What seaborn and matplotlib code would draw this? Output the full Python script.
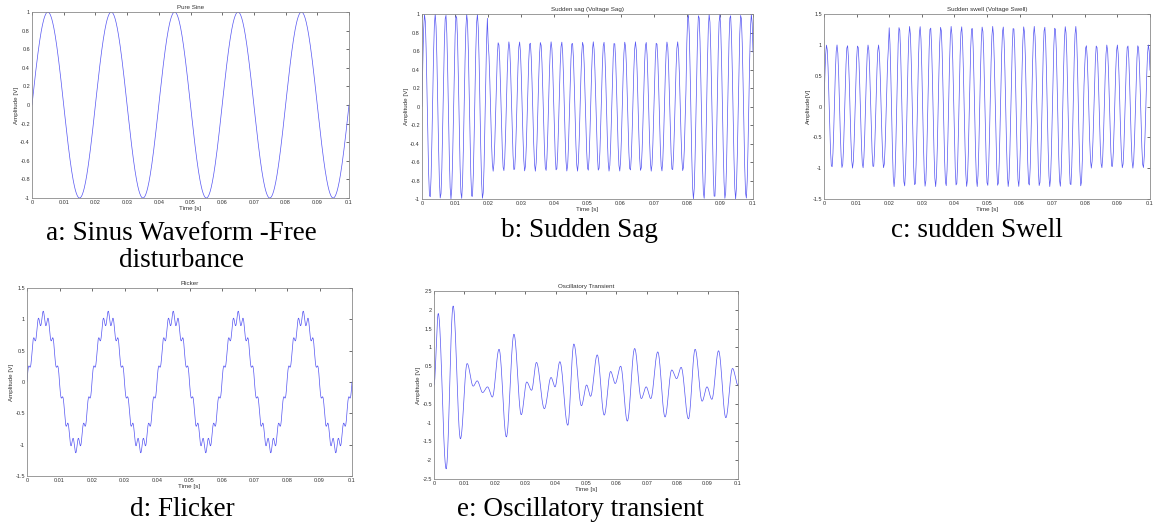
import numpy as np
import pandas as pd
import seaborn as sns
from matplotlib import pyplot as plt
from matplotlib.ticker import FuncFormatter, MultipleLocator

# ---- values ----
time_span = [0.0, 0.1]

# a: pure sine
pure_freq_hz = 50
pure_amp = 1.0

# b / c: carrier (peak spacing ~0.00318 s), amplitude per segment
event_freq_hz = 314
event_edges = [0.02, 0.08]
sag_amps = [1.0, 0.7, 1.0]
swell_amps = [1.0, 1.3, 1.0]
event_rate_hz = 4000

# d: flicker
flicker_freq_hz = 50
flicker_amp = 1.03
ripple_freq_hz = 650
ripple_amp = 0.1

# e: oscillatory transient, turning points (time, value)
transient_t = [0.0, 0.0014, 0.0040, 0.0063, 0.0087, 0.0109, 0.0129, 0.0142, 0.0160,
               0.0176, 0.0192, 0.0214, 0.0238, 0.0263, 0.0287, 0.0305, 0.0321, 0.0337,
               0.0363, 0.0385, 0.0398, 0.0414, 0.0440, 0.0460, 0.0485, 0.0502, 0.0515,
               0.0537, 0.0560, 0.0581, 0.0596, 0.0614, 0.0636, 0.0660, 0.0682, 0.0698,
               0.0713, 0.0736, 0.0760, 0.0782, 0.0798, 0.0813, 0.0837, 0.0859, 0.0882,
               0.0898, 0.0914, 0.0936, 0.0960, 0.0982, 0.1000]
transient_v = [0.0, 1.90, -2.23, 2.10, -1.43, 0.57, -0.03, 0.11, -0.20,
               -0.05, -0.32, 0.95, -1.38, 1.35, -0.79, 0.08, -0.14, 0.60,
               -0.63, 0.20, -0.05, 0.62, -1.07, 1.09, -0.55, 0.00, -0.30,
               0.80, -0.80, 0.36, 0.04, 0.50, -0.96, 0.97, -0.36, -0.05,
               -0.36, 0.88, -0.85, 0.40, 0.17, 0.47, -0.90, 0.95, -0.43,
               -0.05, -0.38, 0.91, -0.87, 0.44, 0.0]

titles = ["Pure Sine", "Sudden sag (Voltage Sag)", "Sudden swell (Voltage Swell)",
          "Flicker", "Oscillatory Transient"]
ylabels = ["Amplitude [V]", "Amplitude [V]", "Amplitude[V]", "Amplitude [V]", "Amplitude [V]"]
captions = ["a: Sinus Waveform -Free\ndisturbance", "b: Sudden Sag", "c: sudden Swell",
            "d: Flicker", "e: Oscillatory transient"]
ylims = [(-1, 1), (-1, 1), (-1.5, 1.5), (-1.5, 1.5), (-2.5, 2.5)]
ysteps = [0.2, 0.2, 0.5, 0.5, 0.5]


def segmented_sine(amps):
    t = np.arange(time_span[0], time_span[1] + 1e-9, 1 / event_rate_hz)
    seg = np.searchsorted(event_edges, t, side="right")
    return t, np.take(amps, seg) * np.sin(2 * np.pi * event_freq_hz * t)


def through_turning_points(ts, vs, n=30):
    out_t, out_v = [], []
    for i in range(len(ts) - 1):
        s = np.linspace(0, 1, n, endpoint=False)
        out_t.append(ts[i] + (ts[i + 1] - ts[i]) * s)
        out_v.append(vs[i] + (vs[i + 1] - vs[i]) * (1 - np.cos(np.pi * s)) / 2)
    out_t.append([ts[-1]])
    out_v.append([vs[-1]])
    return np.concatenate(out_t), np.concatenate(out_v)


t_a = np.linspace(*time_span, 1001)
v_a = pure_amp * np.sin(2 * np.pi * pure_freq_hz * t_a)
t_b, v_b = segmented_sine(sag_amps)
t_c, v_c = segmented_sine(swell_amps)
t_d = np.linspace(*time_span, 2001)
v_d = (flicker_amp * np.sin(2 * np.pi * flicker_freq_hz * t_d)
       + ripple_amp * np.sin(2 * np.pi * ripple_freq_hz * t_d))
t_e, v_e = through_turning_points(transient_t, transient_v)
signals = [(t_a, v_a), (t_b, v_b), (t_c, v_c), (t_d, v_d), (t_e, v_e)]

sns.set_theme(style="white")
plt.rcParams["font.family"] = ["Liberation Sans", "DejaVu Sans"]

W, H = 1155, 526
fig = plt.figure(figsize=(W / 100, H / 100), dpi=100)

# axes boxes in pixels: left, top, right, bottom
boxes = [(32, 12, 349, 198), (422, 14, 753, 199), (824, 14, 1150, 199),
         (27, 288, 352, 476), (434, 291, 738, 479)]
caption_xy = [(181, 247), (579, 230), (977, 230), (182, 510), (580, 510)]


def tick_text(v, pos):
    v = round(v, 6)
    return "0" if v == 0 else f"{v:g}"


fmt = FuncFormatter(tick_text)
for i, (l, t, r, b) in enumerate(boxes):
    ax = fig.add_axes([l / W, 1 - b / H, (r - l) / W, (b - t) / H])
    df = pd.DataFrame({"t": signals[i][0], "v": signals[i][1]})
    sns.lineplot(data=df, x="t", y="v", ax=ax, color="#5555f2", linewidth=0.5,
                 estimator=None, sort=False)
    ax.set_xlim(*time_span)
    ax.set_ylim(*ylims[i])
    ax.xaxis.set_major_locator(MultipleLocator(0.01))
    ax.yaxis.set_major_locator(MultipleLocator(ysteps[i]))
    ax.xaxis.set_major_formatter(fmt)
    ax.yaxis.set_major_formatter(fmt)
    ax.tick_params(direction="in", length=2, width=0.5, labelsize=4, pad=1.5,
                   top=True, right=True, colors="#333333")
    for sp in ax.spines.values():
        sp.set_color("#8a8a8a")
        sp.set_linewidth(0.6)
    ax.set_title(titles[i], fontsize=4.5, pad=2, color="#333333")
    ax.set_xlabel("Time [s]", fontsize=4.5, labelpad=1, color="#333333")
    ax.set_ylabel(ylabels[i], fontsize=4.5, labelpad=1, color="#333333")
    cx, cy = caption_xy[i]
    fig.text(cx / W, 1 - cy / H, captions[i], ha="center", va="center",
             fontsize=19.5, family=["Liberation Serif", "DejaVu Serif"],
             linespacing=1.15, color="black")

plt.savefig("out.png", dpi=100)
